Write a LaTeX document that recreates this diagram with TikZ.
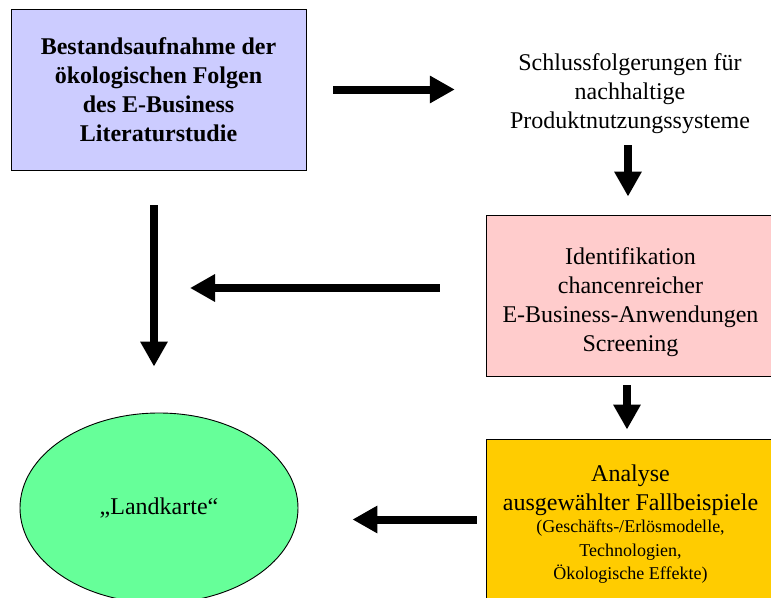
\documentclass[tikz,border=0pt]{standalone}
\usepackage{fontspec}
\setmainfont{Liberation Serif}
\usepackage{tikz}
\usetikzlibrary{shapes.geometric, arrows.meta}
\definecolor{blaulila}{HTML}{CCCCFF}
\definecolor{rosa}{HTML}{FFCCCC}
\definecolor{gold}{HTML}{FFCC00}
\definecolor{gruen}{HTML}{66FF99}
\newcommand{\gross}{\fontsize{24}{29}\selectfont}
\newcommand{\klein}{\fontsize{18}{22.5}\selectfont}
\tikzstyle{kasten} = [rectangle, minimum width=289pt, minimum height=161pt, text centered, align=center, draw=black, line width=0.9pt, font=\gross]
\tikzstyle{karte} = [ellipse, minimum width=278pt, minimum height=190pt, inner sep=0pt, text centered, draw=black, line width=0.9pt, fill=gruen, font=\gross]
\tikzstyle{freitext} = [inner sep=0pt, text centered, align=center, font=\gross]
\tikzstyle{pfeil} = [line width=8pt, -{Triangle[length=25pt, width=26pt]}]

\begin{document}
\begin{tikzpicture}[x=1pt, y=-1pt]
\useasboundingbox (0,0) rectangle (771,597);
\clip (0,0) rectangle (771,597);

\node (bestand) [kasten, minimum width=295pt, fill=blaulila, font=\gross\bfseries] at (158.5,89.5) {Bestandsaufnahme der\\ ökologischen Folgen\\ des E-Business\\ Literaturstudie};
\node (schluss) [freitext] at (630,94) {Schlussfolgerungen für\\ nachhaltige\\ Produktnutzungssysteme};
\node (identifikation) [kasten, fill=rosa] at (630.5,295.5) {};
\node (identtext) [freitext] at ([yshift=-6.5pt]identifikation.center) {Identifikation\\ chancenreicher\\ E-Business-Anwendungen\\ Screening};
\node (analyse) [kasten, fill=gold] at (630.5,519.5) {};
\node (analysetext) [freitext] at ([yshift=-5pt]analyse.center) {Analyse\\ ausgewählter Fallbeispiele\\[-7pt] \klein(Geschäfts-/Erlösmodelle,\\[-5.5pt] \klein Technologien,\\[-5.5pt] \klein Ökologische Effekte)};
\node (landkarte) [karte] at (159,508) {„Landkarte“};
\coordinate (links) at (190,288);

\draw [pfeil, shorten <=27pt, shorten >=55pt] (bestand.east) -- (bestand.east -| schluss.west);
\draw [pfeil, shorten <=11pt, shorten >=18pt] ([xshift=-2pt]schluss.south) -- ([xshift=-2.5pt]identifikation.north);
\draw [pfeil, shorten <=46pt] (identifikation.west |- links) -- (links);
\draw [pfeil, shorten <=35pt, shorten >=46pt] ([xshift=-4.5pt]bestand.south) -- ([xshift=-5pt]landkarte.north);
\draw [pfeil, shorten <=9pt, shorten >=9pt] ([xshift=-3.5pt]identifikation.south) -- ([xshift=-3.5pt]analyse.north);
\draw [pfeil, shorten <=9pt, shorten >=54pt] (analyse.west) -- (analyse.west -| landkarte.east);

\end{tikzpicture}
\end{document}
